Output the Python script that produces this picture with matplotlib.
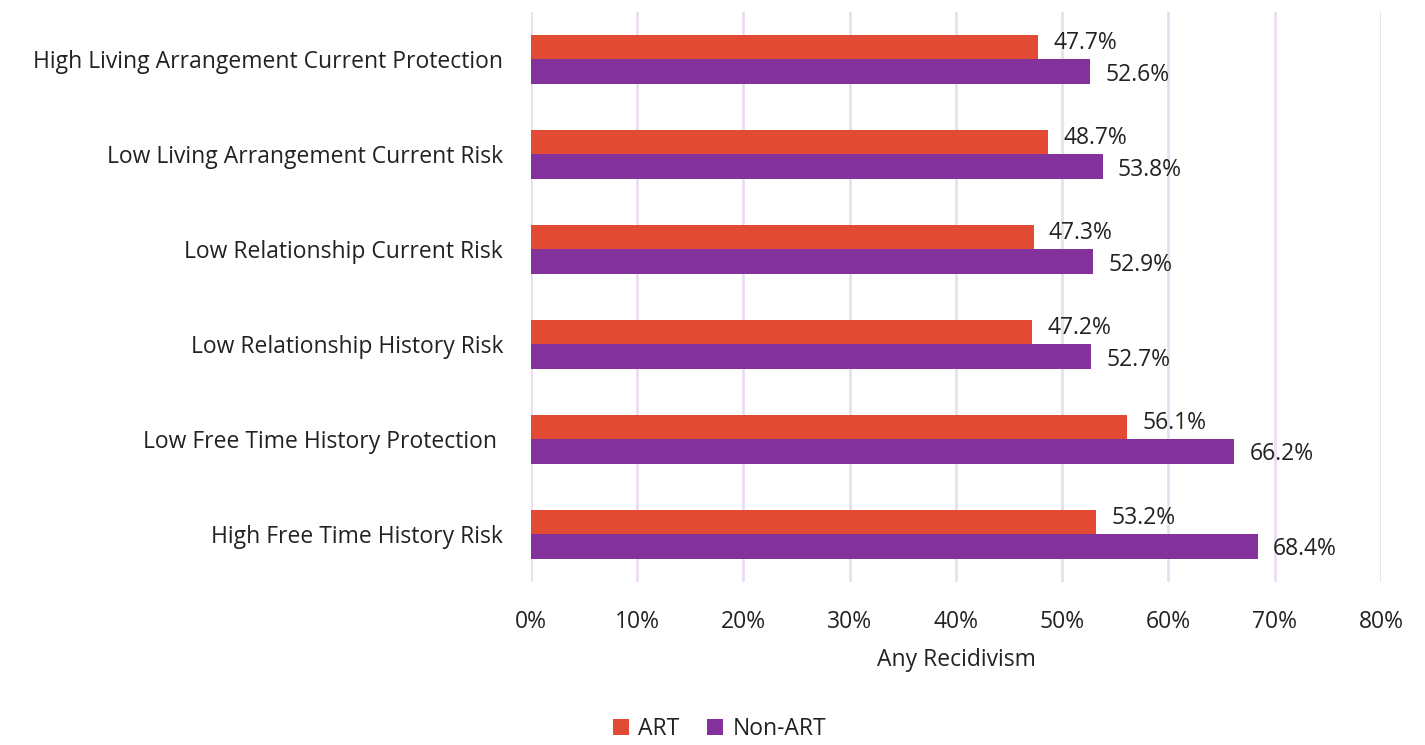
import matplotlib
matplotlib.use("Agg")
import matplotlib.pyplot as plt
import numpy as np

categories = [
    "High Free Time History Risk",
    "Low Free Time History Protection ",
    "Low Relationship History Risk",
    "Low Relationship Current Risk",
    "Low Living Arrangement Current Risk",
    "High Living Arrangement Current Protection",
]
art = [53.2, 56.1, 47.2, 47.3, 48.7, 47.7]
non_art = [68.4, 66.2, 52.7, 52.9, 53.8, 52.6]
xticks = [0, 10, 20, 30, 40, 50, 60, 70, 80]

plt.rcParams['font.family'] = ['Open Sans', 'DejaVu Sans']
TXT = '#222222'
FS = 16.5

fig = plt.figure(figsize=(14.25, 7.45), dpi=100)
ax = fig.add_axes([0.3726, 0.219, 0.5965, 0.765])

y = np.arange(len(categories))
h = 0.26
b1 = ax.barh(y + h / 2, art, height=h, color='#E34A33', label='ART', zorder=3)
b2 = ax.barh(y - h / 2, non_art, height=h, color='#84329B', label='Non-ART', zorder=3)

for bars, vals, dy in ((b1, art, 3), (b2, non_art, -2)):
    for bar, v in zip(bars, vals):
        ax.annotate(f"{v:.1f}%", (v, bar.get_y() + bar.get_height() / 2),
                    xytext=(11, dy), textcoords='offset points', va='center', ha='left',
                    fontsize=FS, color=TXT)

ax.set_xlim(0, 80)
ax.set_ylim(-0.5, 5.5)
ax.set_xticks(xticks)
ax.set_xticklabels([f"{t}%" for t in xticks])
ax.set_yticks(y)
ax.set_yticklabels(categories)
ax.tick_params(axis='both', length=0, labelsize=FS, colors=TXT)
ax.tick_params(axis='y', pad=20)
ax.tick_params(axis='x', pad=20)
ax.xaxis.grid(True, color='#EBDDF0', linewidth=2, zorder=0)
for s in ax.spines.values():
    s.set_visible(False)
ax.set_xlabel("Any Recidivism", fontsize=FS, color=TXT, labelpad=10)

fig.legend(handles=[b1, b2], labels=['ART', 'Non-ART'], loc='lower center',
           bbox_to_anchor=(0.505, -0.022), ncol=2, frameon=False, fontsize=FS,
           handlelength=0.7, handleheight=0.7, handletextpad=0.4, columnspacing=1.2)
for t in fig.legends[0].get_texts():
    t.set_color(TXT)

fig.savefig("out.png", dpi=100)
